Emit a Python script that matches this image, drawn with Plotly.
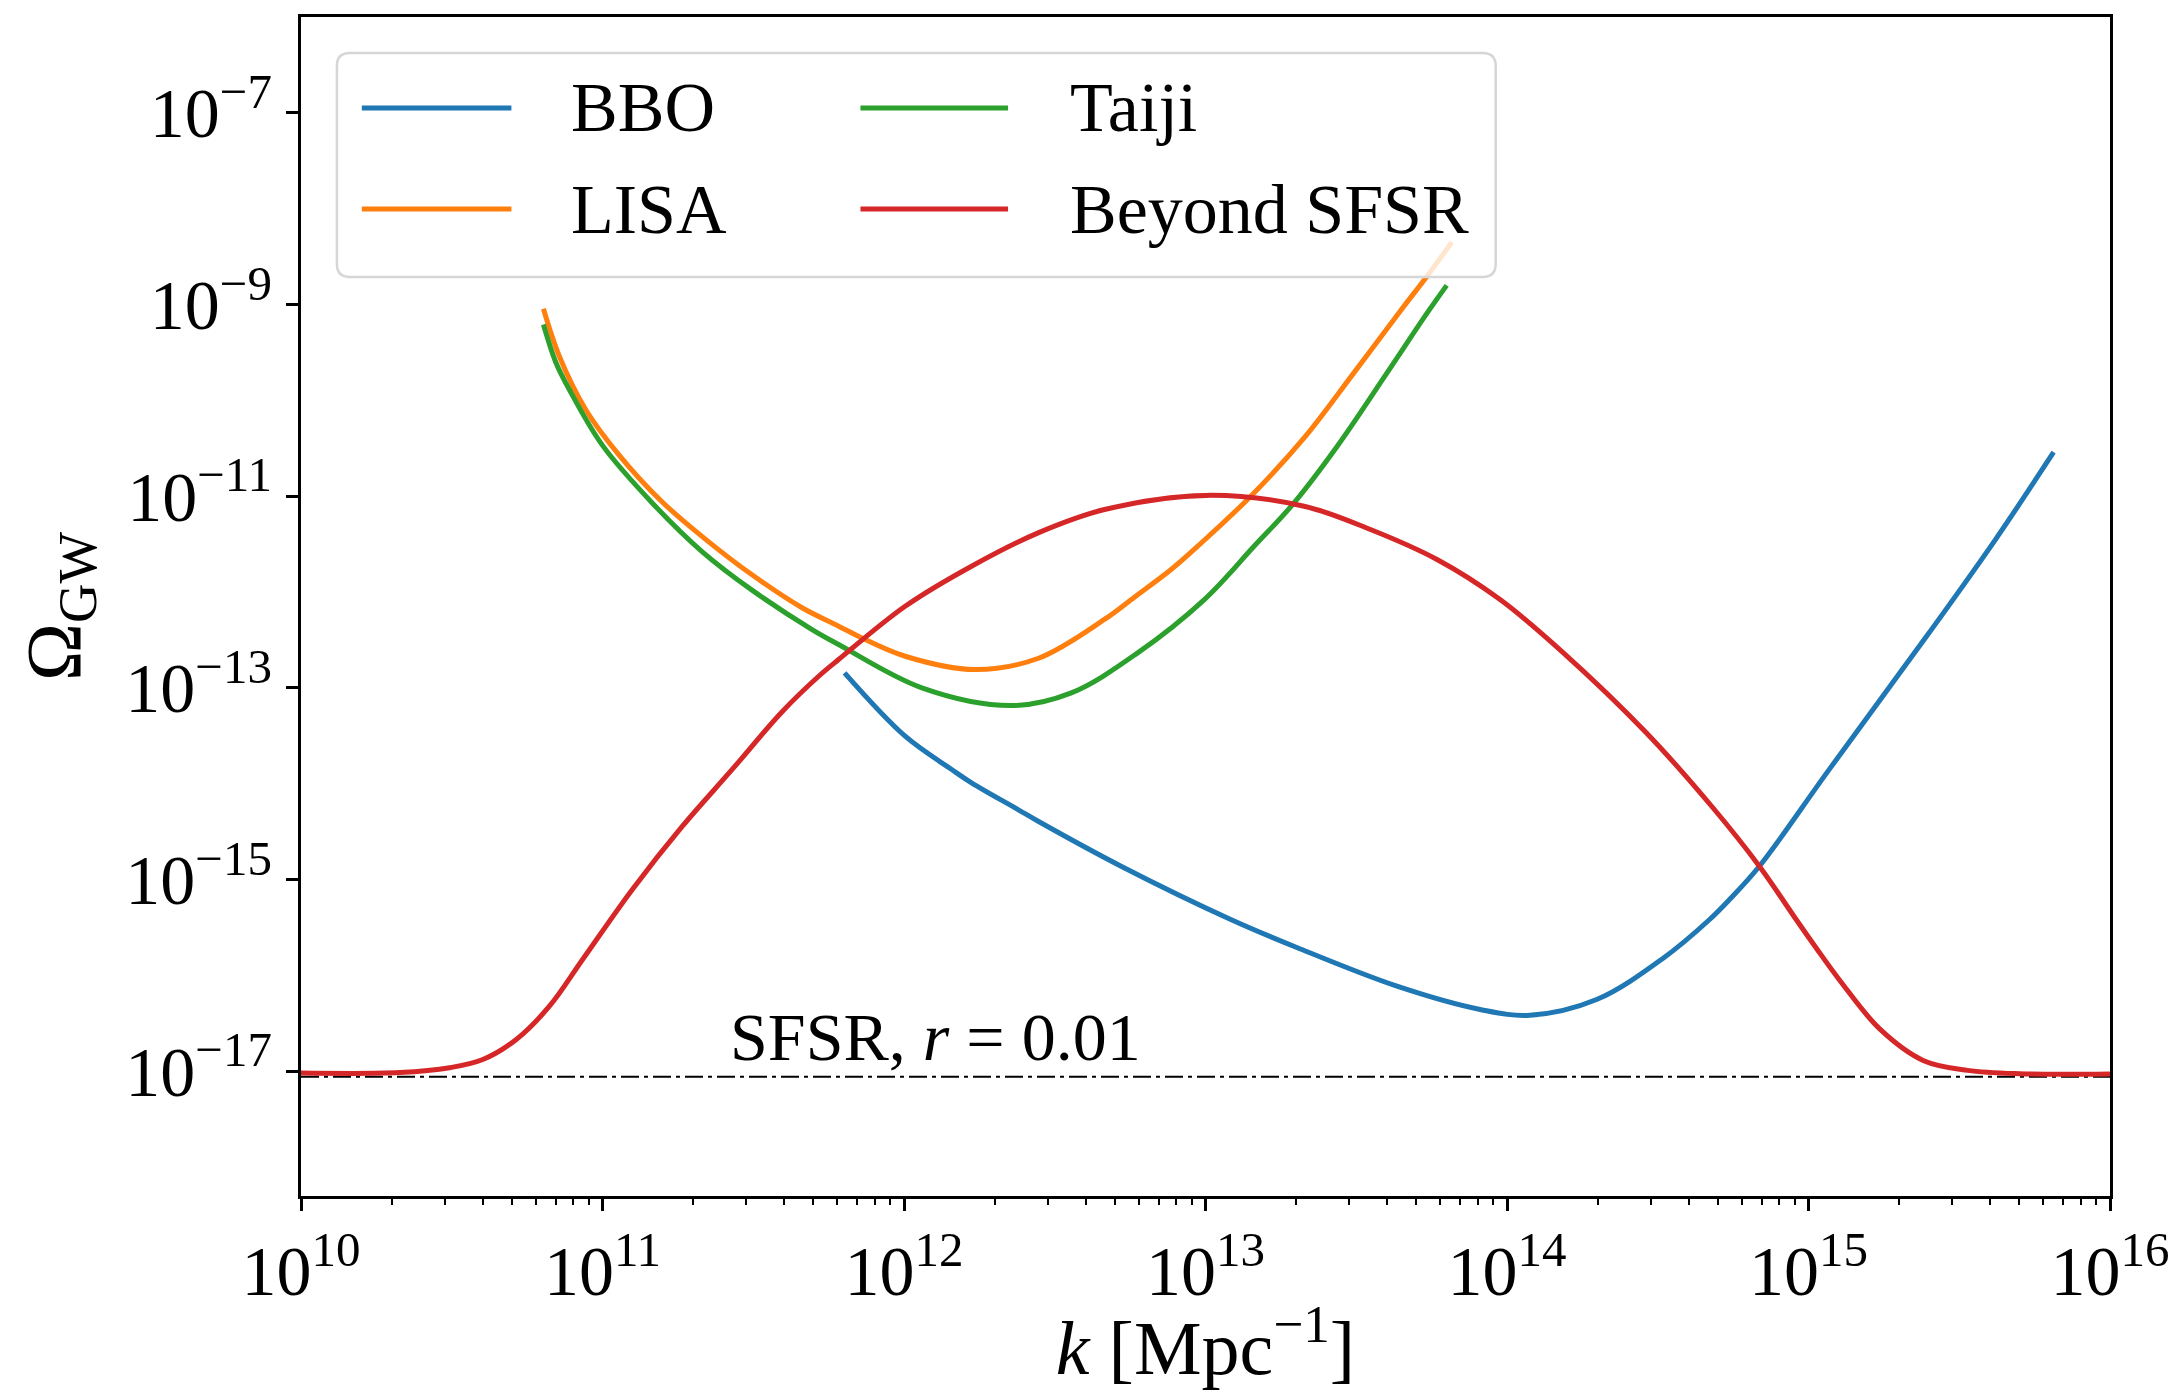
import math
import plotly.graph_objects as go

# ---- gravitational-wave spectra and detector sensitivity curves ----
k_bbo = [6.35e11, 1.009e12, 1.439e12, 1.675e12, 2.388e12, 2.786e12, 5.248e12,
         1.213e13, 2.018e13, 4.315e13, 8.147e13, 1.191e14, 1.982e14, 3.296e14,
         4.699e14, 5.47e14, 6.871e14, 1.172e15, 2.512e15, 4.169e15, 6.50e15]
omega_bbo = [1.436e-13, 3.133e-14, 1.41e-14, 1.023e-14, 5.383e-15, 4.064e-15, 1.38e-15,
             3.837e-16, 1.945e-16, 7.727e-17, 4.416e-17, 3.846e-17, 5.61e-17, 1.514e-16,
             3.837e-16, 6.194e-16, 1.38e-15, 1.413e-14, 3.758e-13, 3.532e-12, 2.877e-11]

k_lisa = [6.37e10, 7.19e10, 8.81e10, 1.135e11, 1.578e11, 2.198e11, 3.133e11, 4.59e11,
          6.07e11, 7.06e11, 1.009e12, 1.718e12, 2.793e12, 4.62e12, 5.81e12, 7.69e12,
          9.42e12, 1.413e13, 2.123e13, 3.105e13, 4.55e13, 5.43e13, 6.56e13]
omega_lisa = [9.02e-10, 2.89e-10, 7.94e-11, 2.69e-11, 8.71e-12, 3.55e-12, 1.514e-12, 6.86e-13,
              4.41e-13, 3.46e-13, 2.14e-13, 1.556e-13, 2.04e-13, 5.18e-13, 8.85e-13, 1.718e-12,
              3.01e-12, 1.0e-11, 4.06e-11, 1.936e-10, 9.59e-10, 1.972e-9, 4.47e-9]

k_taiji = [6.37e10, 7.01e10, 7.76e10, 1.0e11, 1.462e11, 2.143e11, 3.133e11, 4.955e11,
           6.07e11, 1.146e12, 2.27e12, 3.589e12, 5.957e12, 9.91e12, 1.449e13, 1.945e13,
           2.735e13, 4.0e13, 5.43e13, 6.31e13]
omega_taiji = [6.18e-10, 2.466e-10, 1.297e-10, 3.39e-11, 8.51e-12, 2.63e-12, 1.047e-12, 4.064e-13,
               2.838e-13, 1.002e-13, 6.546e-14, 8.89e-14, 2.323e-13, 8.356e-13, 3.006e-12, 8.185e-12,
               3.327e-11, 1.936e-10, 8.13e-10, 1.585e-9]

k_beyond = [1.0e10, 2.123e10, 3.112e10, 4.009e10, 5.176e10, 6.668e10, 8.59e10, 1.256e11,
            1.841e11, 2.692e11, 3.936e11, 5.212e11, 6.067e11, 1.009e12, 1.675e12, 2.786e12,
            4.624e12, 1.0e13, 2.123e13, 3.524e13, 5.861e13, 9.484e13, 1.538e14, 2.897e14,
            4.819e14, 6.871e14, 9.099e14, 1.059e15, 1.276e15, 1.726e15, 2.41e15, 3.373e15,
            5.012e15, 1.0e16]
omega_beyond = [9.6e-18, 9.7e-18, 1.089e-17, 1.327e-17, 2.148e-17, 4.775e-17, 1.466e-16, 7.889e-16,
                3.606e-15, 1.41e-14, 5.62e-14, 1.324e-13, 1.977e-13, 7.112e-13, 1.862e-12, 4.15e-12,
                7.261e-12, 1.02e-11, 7.87e-12, 4.498e-12, 2.188e-12, 8.356e-13, 2.323e-13, 3.404e-14,
                5.62e-15, 1.38e-15, 3.837e-16, 1.945e-16, 8.71e-17, 2.75e-17, 1.29e-17, 1.023e-17,
                9.44e-18, 9.4e-18]

# single-field slow-roll reference level, r = 0.01
k_sfsr = [1.0e10, 1.0e16]
omega_sfsr = [8.77e-18, 8.77e-18]

names = ["BBO", "LISA", "Taiji", "Beyond SFSR"]
colors = ["#1f77b4", "#ff7f0e", "#2ca02c", "#d62728"]
curves = [(k_bbo, omega_bbo), (k_lisa, omega_lisa), (k_taiji, omega_taiji), (k_beyond, omega_beyond)]

x_tick_exps = [10, 11, 12, 13, 14, 15, 16]
y_tick_exps = [-7, -9, -11, -13, -15, -17]

sfsr_label = "SFSR, <i>r</i> = 0.01"
sfsr_label_pos = (2.61e11, 2.28e-17)

FONT = "Liberation Serif"

# plot-area geometry in pixels (used for the legend frame layout)
PLOT_L, PLOT_R, PLOT_T, PLOT_B = 301, 2115, 17, 1196


def px(x):
    return (x - PLOT_L) / (PLOT_R - PLOT_L)


def py(y):
    return (PLOT_B - y) / (PLOT_B - PLOT_T)


fig = go.Figure()

fig.add_trace(go.Scatter(
    x=k_sfsr, y=omega_sfsr, mode="lines", showlegend=False, hoverinfo="skip",
    line=dict(color="black", width=2, dash="18px,5px,4px,5px"),
))

for name, color, (k, om) in zip(names, colors, curves):
    fig.add_trace(go.Scatter(
        x=k, y=om, mode="lines", name=name, showlegend=False,
        line=dict(color=color, width=5, shape="spline", smoothing=1.0),
    ))

minor_x = [m * 10.0 ** e for e in range(10, 16) for m in range(2, 10)]

fig.update_xaxes(
    type="log", range=[10, 16],
    tickmode="array",
    tickvals=[10.0 ** e for e in x_tick_exps],
    ticktext=[f"10<sup>{e}</sup>" for e in x_tick_exps],
    ticks="outside", ticklen=12, tickwidth=3, tickcolor="black",
    minor=dict(tickmode="array", tickvals=minor_x, ticks="outside",
               ticklen=6, tickwidth=2, tickcolor="black", showgrid=False),
    showline=True, linewidth=3, linecolor="black", mirror=True,
    showgrid=False, zeroline=False,
    tickfont=dict(family=FONT, size=70, color="black"),
    title=dict(text="<i>k</i> [Mpc<sup>−1</sup>]",
               font=dict(family=FONT, size=76, color="black"), standoff=12),
)

fig.update_yaxes(
    type="log", range=[math.log10(5e-19), -6],
    tickmode="array",
    tickvals=[10.0 ** e for e in y_tick_exps],
    ticktext=[f"10<sup>−{abs(e)}</sup>" for e in y_tick_exps],
    ticks="outside", ticklen=12, tickwidth=3, tickcolor="black",
    showline=True, linewidth=3, linecolor="black", mirror=True,
    showgrid=False, zeroline=False,
    tickfont=dict(family=FONT, size=70, color="black"),
    title=dict(text="Ω<sub>GW</sub>",
               font=dict(family=FONT, size=78, color="black"), standoff=20),
)

# legend frame: rounded, semi-transparent white box
x0, x1 = px(337), px(1499)
y0, y1 = py(277), py(53)
rx, ry = 13 / (PLOT_R - PLOT_L), 13 / (PLOT_B - PLOT_T)
frame_path = (
    f"M{x0 + rx},{y1} L{x1 - rx},{y1} Q{x1},{y1} {x1},{y1 - ry} "
    f"L{x1},{y0 + ry} Q{x1},{y0} {x1 - rx},{y0} "
    f"L{x0 + rx},{y0} Q{x0},{y0} {x0},{y0 + ry} "
    f"L{x0},{y1 - ry} Q{x0},{y1} {x0 + rx},{y1} Z"
)
shapes = [dict(type="path", xref="paper", yref="paper", path=frame_path,
               fillcolor="rgba(255,255,255,0.8)",
               line=dict(color="#d6d6d6", width=2.5), layer="above")]

annotations = []
# two legend columns: (line x-start, line x-end, text x) in pixels
columns = [(362, 512, 570), (862, 1010, 1070)]
rows = [108, 209]
for i, (name, color) in enumerate(zip(names, colors)):
    col, row = divmod(i, 2)
    lx0, lx1, tx = columns[col]
    yy = py(rows[row])
    shapes.append(dict(type="line", xref="paper", yref="paper",
                       x0=px(lx0), x1=px(lx1), y0=yy, y1=yy,
                       line=dict(color=color, width=5), layer="above"))
    annotations.append(dict(xref="paper", yref="paper", x=px(tx), y=yy,
                            xanchor="left", yanchor="middle", showarrow=False,
                            text=name, font=dict(family=FONT, size=70, color="black")))

annotations.append(dict(
    x=math.log10(sfsr_label_pos[0]), y=math.log10(sfsr_label_pos[1]),
    xref="x", yref="y", xanchor="left", yanchor="middle", showarrow=False,
    text=sfsr_label, font=dict(family=FONT, size=68, color="black"),
))

fig.update_layout(
    width=2182, height=1390,
    margin=dict(l=PLOT_L, r=2182 - PLOT_R, t=PLOT_T, b=1390 - PLOT_B),
    paper_bgcolor="white", plot_bgcolor="white",
    font=dict(family=FONT, size=70, color="black"),
    showlegend=False,
    shapes=shapes,
    annotations=annotations,
)

fig.write_html("out.html")
